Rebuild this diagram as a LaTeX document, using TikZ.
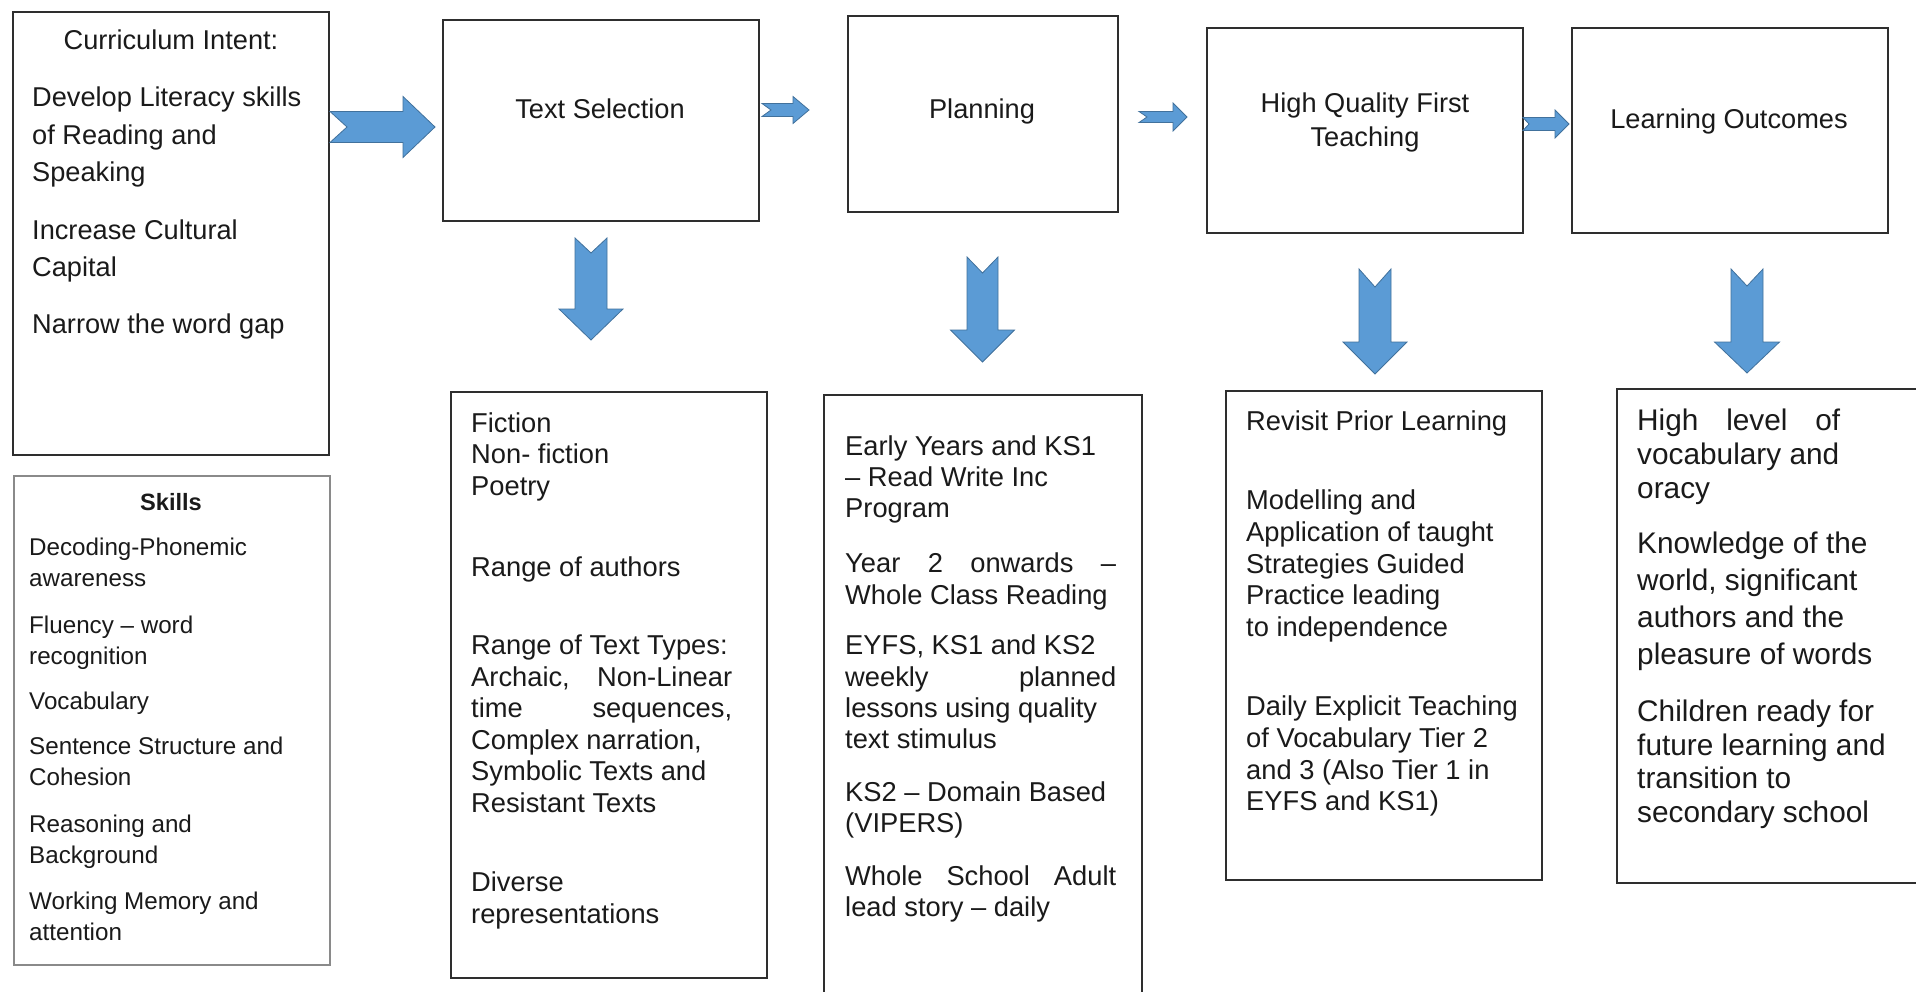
\documentclass[tikz,border=0pt]{standalone}
\usepackage{fontspec}
\setmainfont{Liberation Sans}
\definecolor{arrowfill}{HTML}{5B9BD5}
\definecolor{arrowline}{HTML}{41719C}
\definecolor{boxline}{HTML}{2E2E2E}
\definecolor{txt}{HTML}{1A1A1A}
\definecolor{skline}{HTML}{8A8A8A}
\newcommand\hblockarrow[7]{% tail x, tip x, centre y, shaft half, head half, head start x, notch depth
  \draw[blockarrow] ({#1},{#3-#4}) -- ({#6},{#3-#4}) -- ({#6},{#3-#5}) -- ({#2},{#3})
    -- ({#6},{#3+#5}) -- ({#6},{#3+#4}) -- ({#1},{#3+#4}) -- ({#1+#7},{#3}) -- cycle;}
\newcommand\vblockarrow[7]{% centre x, top y, notch y, head y, tip y, shaft half, head half
  \draw[blockarrow] ({#1-#6},{#2}) -- ({#1},{#3}) -- ({#1+#6},{#2}) -- ({#1+#6},{#4})
    -- ({#1+#7},{#4}) -- ({#1},{#5}) -- ({#1-#7},{#4}) -- ({#1-#6},{#4}) -- cycle;}
\begin{document}
\begin{tikzpicture}[x=1pt,y=-1pt,
  box/.style={draw=boxline, line width=2pt, inner sep=0pt, anchor=north west},
  lbl/.style={inner sep=0pt, anchor=base, text=txt, font=\fontsize{27.2}{34}\selectfont},
  body/.style={inner sep=0pt, anchor=base west, text=txt},
  blockarrow/.style={fill=arrowfill, draw=arrowline, line width=0.8pt, line join=miter}]

\fill[white] (0,0) rectangle (1916,992);
\useasboundingbox (0,0) rectangle (1916,992);

% boxes
\node[box, minimum width=316pt, minimum height=443pt] (cur) at (12,11) {};
\node[box, minimum width=316pt, minimum height=201pt] (ts) at (442,19) {};
\node[box, minimum width=270pt, minimum height=196pt] (plan) at (847,15) {};
\node[box, minimum width=316pt, minimum height=205pt] (hq) at (1206,27) {};
\node[box, minimum width=316pt, minimum height=205pt] (lo) at (1571,27) {};
\node[box, minimum width=316pt, minimum height=586pt] (fic) at (450,391) {};
\node[box, minimum width=318pt, minimum height=620pt] (pc) at (823,394) {};
\node[box, minimum width=316pt, minimum height=489pt] (hc) at (1225,390) {};
\node[box, minimum width=330pt, minimum height=494pt] (lc) at (1616,388) {};
\node[box, draw=skline, line width=1.5pt, minimum width=316pt, minimum height=489pt] (sk) at (13,475) {};

% headings
\node[lbl] (curh) at (171,50) {Curriculum Intent:};
\node[lbl] (tst) at (600,119) {Text Selection};
\node[lbl] (plant) at (982,119) {Planning};
\node[lbl] (hqt) at (1365,113) {\parbox[t]{300pt}{\centering\fontsize{27.2}{34}\selectfont High Quality First\\ Teaching}};
\node[lbl] (lot) at (1729,129) {Learning Outcomes};
\node[inner sep=0pt, anchor=base, text=txt, font=\bfseries\fontsize{23.6}{30}\selectfont] (skh) at (171,510) {Skills};

% body texts
\node[body] (curb) at (32,107) {\parbox[t]{295pt}{\raggedright\fontsize{27.2}{37.5}\selectfont
Develop Literacy skills\\ of Reading and\\ Speaking\\[20pt] Increase Cultural\\ Capital\\[19pt] Narrow the word gap}};

\node[body] (fict) at (471,432) {\parbox[t]{295pt}{\raggedright\fontsize{27.3}{31.6}\selectfont
Fiction\\ Non- fiction\\ Poetry\\[49.7pt] Range of authors\\[46.4pt] Range of Text Types:\\
\makebox[261pt][s]{Archaic, Non-Linear}\\ \makebox[261pt][s]{time sequences,}\\
Complex narration,\\ Symbolic Texts and\\ Resistant Texts\\[47.4pt] Diverse\\ representations}};

\node[body] (pct) at (845,455) {\parbox[t]{295pt}{\raggedright\fontsize{27.3}{31.3}\selectfont
Early Years and KS1\\ – Read Write Inc\\ Program\\[24pt]
\makebox[271pt][s]{Year 2 onwards –}\\ Whole Class Reading\\[19.4pt]
EYFS, KS1 and KS2\\ \makebox[271pt][s]{weekly planned}\\ lessons using quality\\ text stimulus\\[21pt]
KS2 – Domain Based\\ (VIPERS)\\[21.7pt]
\makebox[271pt][s]{Whole School Adult}\\ lead story – daily}};

\node[body] (hct) at (1246,430) {\parbox[t]{295pt}{\raggedright\fontsize{27.3}{31.7}\selectfont
Revisit Prior Learning\\[47.9pt] Modelling and\\ Application of taught\\ Strategies Guided\\ Practice leading\\ to independence\\[47.7pt]
Daily Explicit Teaching\\ of Vocabulary Tier 2\\ and 3 (Also Tier 1 in\\ EYFS and KS1)}};

\node[body] (lct) at (1637,430) {\parbox[t]{295pt}{\raggedright\fontsize{29.8}{35}\selectfont
\makebox[203pt][s]{High level of}\\[-0.8pt] vocabulary and\\[-0.8pt] oracy\\[19.8pt]
Knowledge of the\\[2pt] world, significant\\[2pt] authors and the\\[2pt] pleasure of words\\[22.6pt]
Children ready for\\[-1.6pt] future learning and\\[-1.6pt] transition to\\[-1.6pt] secondary school}};

\node[body] (skt) at (29,555) {\parbox[t]{295pt}{\raggedright\fontsize{24.2}{31}\selectfont
Decoding-Phonemic\\ awareness\\[16pt] Fluency – word\\ recognition\\[14pt] Vocabulary\\[14pt]
Sentence Structure and\\ Cohesion\\[16pt] Reasoning and\\ Background\\[15pt] Working Memory and\\ attention}};

% block arrows
\hblockarrow{330}{435}{127}{15.5}{30.5}{403}{17}
\hblockarrow{762}{809}{110}{6.5}{13.5}{793}{9}
\hblockarrow{1139}{1187}{117}{5.5}{14}{1173}{8}
\hblockarrow{1523}{1569}{124}{6.5}{14}{1555}{6}

\vblockarrow{591}{238}{253}{309}{340}{16}{32}
\vblockarrow{982.5}{257}{273}{330}{362}{15.5}{32}
\vblockarrow{1375}{269}{287}{342}{374}{16}{32}
\vblockarrow{1747}{269}{286}{342}{373}{16}{32.5}
\end{tikzpicture}
\end{document}
